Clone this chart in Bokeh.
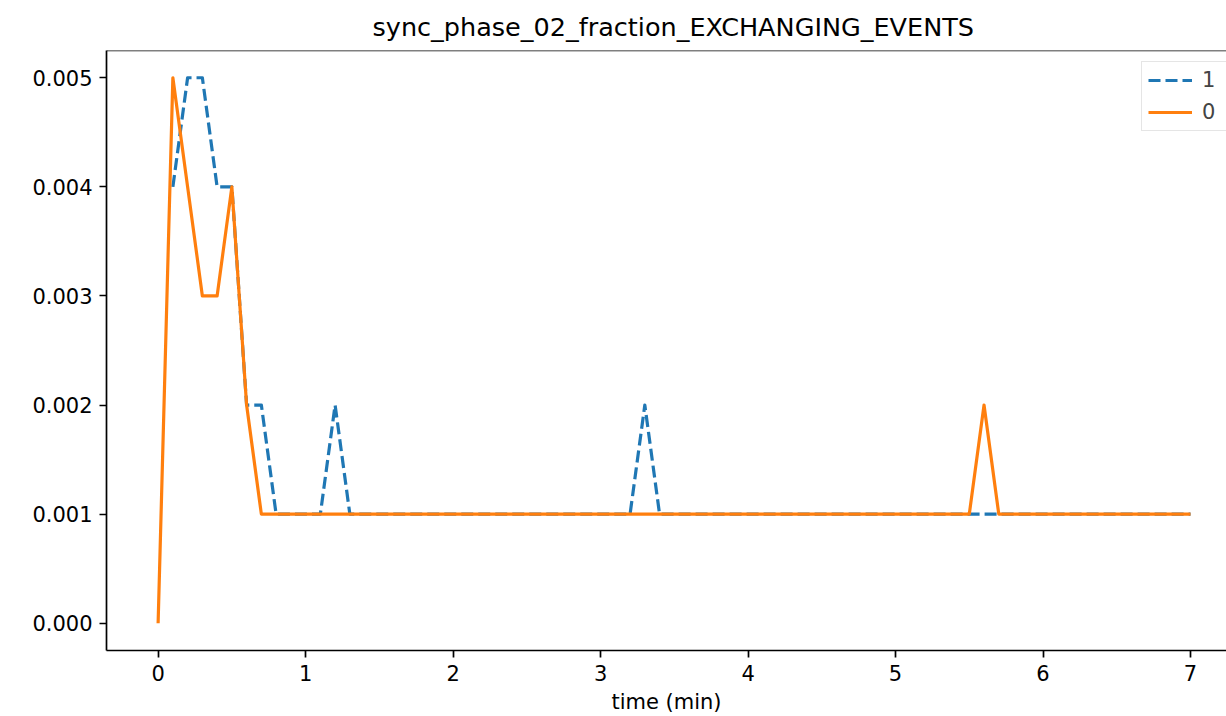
import numpy as np
from bokeh.plotting import figure
from bokeh.models import (Range1d, FixedTicker, NumeralTickFormatter, Legend, LegendItem,
                          Span, ColumnDataSource)
from bokeh.embed import file_html
from bokeh.resources import INLINE

nan = float("nan")

# ---- data -------------------------------------------------------------
time_min = [0.0, 0.1, 0.2, 0.3, 0.4, 0.5, 0.6, 0.7, 0.8, 0.9,
            1.0, 1.1, 1.2, 1.3, 1.4, 1.5, 1.6, 1.7, 1.8, 1.9,
            2.0, 2.1, 2.2, 2.3, 2.4, 2.5, 2.6, 2.7, 2.8, 2.9,
            3.0, 3.1, 3.2, 3.3, 3.4, 3.5, 3.6, 3.7, 3.8, 3.9,
            4.0, 4.1, 4.2, 4.3, 4.4, 4.5, 4.6, 4.7, 4.8, 4.9,
            5.0, 5.1, 5.2, 5.3, 5.4, 5.5, 5.6, 5.7, 5.8, 5.9,
            6.0, 6.1, 6.2, 6.3, 6.4, 6.5, 6.6, 6.7, 6.8, 6.9,
            7.0]

series_1 = [nan, 0.004, 0.005, 0.005, 0.004, 0.004, 0.002, 0.002, 0.001, 0.001,
            0.001, 0.001, 0.002, 0.001, 0.001, 0.001, 0.001, 0.001, 0.001, 0.001,
            0.001, 0.001, 0.001, 0.001, 0.001, 0.001, 0.001, 0.001, 0.001, 0.001,
            0.001, 0.001, 0.001, 0.002, 0.001, 0.001, 0.001, 0.001, 0.001, 0.001,
            0.001, 0.001, 0.001, 0.001, 0.001, 0.001, 0.001, 0.001, 0.001, 0.001,
            0.001, 0.001, 0.001, 0.001, 0.001, 0.001, 0.001, 0.001, 0.001, 0.001,
            0.001, 0.001, 0.001, 0.001, 0.001, 0.001, 0.001, 0.001, 0.001, 0.001,
            0.001]

series_0 = [0.000, 0.005, 0.004, 0.003, 0.003, 0.004, 0.002, 0.001, 0.001, 0.001,
            0.001, 0.001, 0.001, 0.001, 0.001, 0.001, 0.001, 0.001, 0.001, 0.001,
            0.001, 0.001, 0.001, 0.001, 0.001, 0.001, 0.001, 0.001, 0.001, 0.001,
            0.001, 0.001, 0.001, 0.001, 0.001, 0.001, 0.001, 0.001, 0.001, 0.001,
            0.001, 0.001, 0.001, 0.001, 0.001, 0.001, 0.001, 0.001, 0.001, 0.001,
            0.001, 0.001, 0.001, 0.001, 0.001, 0.001, 0.002, 0.001, 0.001, 0.001,
            0.001, 0.001, 0.001, 0.001, 0.001, 0.001, 0.001, 0.001, 0.001, 0.001,
            0.001]

x_ticks = [0, 1, 2, 3, 4, 5, 6, 7]
y_ticks = [0.000, 0.001, 0.002, 0.003, 0.004, 0.005]
series_names = ["1", "0"]
title_text = "sync_phase_02_fraction_EXCHANGING_EVENTS"
x_label = "time (min)"

# ---- figure -----------------------------------------------------------
FONT = "DejaVu Sans"
BLUE = "#1f77b4"
ORANGE = "#ff7f0e"

p = figure(width=1226, height=716, output_backend="svg", toolbar_location=None,
           x_range=Range1d(-0.35, 7.244), y_range=Range1d(-0.00025, 0.00525),
           min_border_left=106, min_border_right=0, min_border_top=50, min_border_bottom=66,
           title=title_text)
p.background_fill_color = "white"
p.border_fill_color = "white"
p.outline_line_color = None
p.grid.visible = False

p.title.text_font = FONT
p.title.text_font_size = "25.5px"
p.title.text_font_style = "normal"
p.title.text_color = "black"
p.title.align = "left"
p.title.offset = 266
p.title.standoff = 18

for ax in (p.xaxis[0], p.yaxis[0]):
    ax.axis_line_color = "black"
    ax.axis_line_width = 1.7
    ax.major_tick_line_color = "black"
    ax.major_tick_line_width = 1.7
    ax.major_tick_in = 0
    ax.major_tick_out = 7
    ax.minor_tick_line_color = None
    ax.major_label_text_font = FONT
    ax.major_label_text_font_size = "21px"
    ax.major_label_text_color = "black"
    ax.major_label_standoff = 7

p.xaxis[0].ticker = FixedTicker(ticks=x_ticks)
p.yaxis[0].ticker = FixedTicker(ticks=y_ticks)
p.yaxis[0].formatter = NumeralTickFormatter(format="0.000")

p.xaxis[0].axis_label = x_label
p.xaxis[0].axis_label_text_font = FONT
p.xaxis[0].axis_label_text_font_size = "21px"
p.xaxis[0].axis_label_text_font_style = "normal"
p.xaxis[0].axis_label_text_color = "black"
p.xaxis[0].axis_label_standoff = 6

# top spine
p.add_layout(Span(location=0.00525, dimension="width", line_color="black", line_width=1.7))

src = ColumnDataSource(dict(t=time_min, s1=np.array(series_1, dtype=float),
                            s0=np.array(series_0, dtype=float)))

r1 = p.line("t", "s1", source=src, line_color=BLUE, line_width=3.2, line_dash="12 5",
            line_join="round")
r0 = p.line("t", "s0", source=src, line_color=ORANGE, line_width=3.2, line_join="round")

legend = Legend(items=[LegendItem(label=series_names[0], renderers=[r1]),
                       LegendItem(label=series_names[1], renderers=[r0])],
                location=(1035, 519))
legend.label_text_font = FONT
legend.label_text_font_size = "21px"
legend.glyph_width = 44
legend.glyph_height = 22
legend.label_height = 22
legend.spacing = 8
legend.padding = 6
legend.label_standoff = 10
legend.border_line_color = "#cccccc"
legend.border_line_width = 1.7
legend.background_fill_alpha = 0.8
p.add_layout(legend, "center")

open("out.html", "w").write(file_html(p, INLINE))
